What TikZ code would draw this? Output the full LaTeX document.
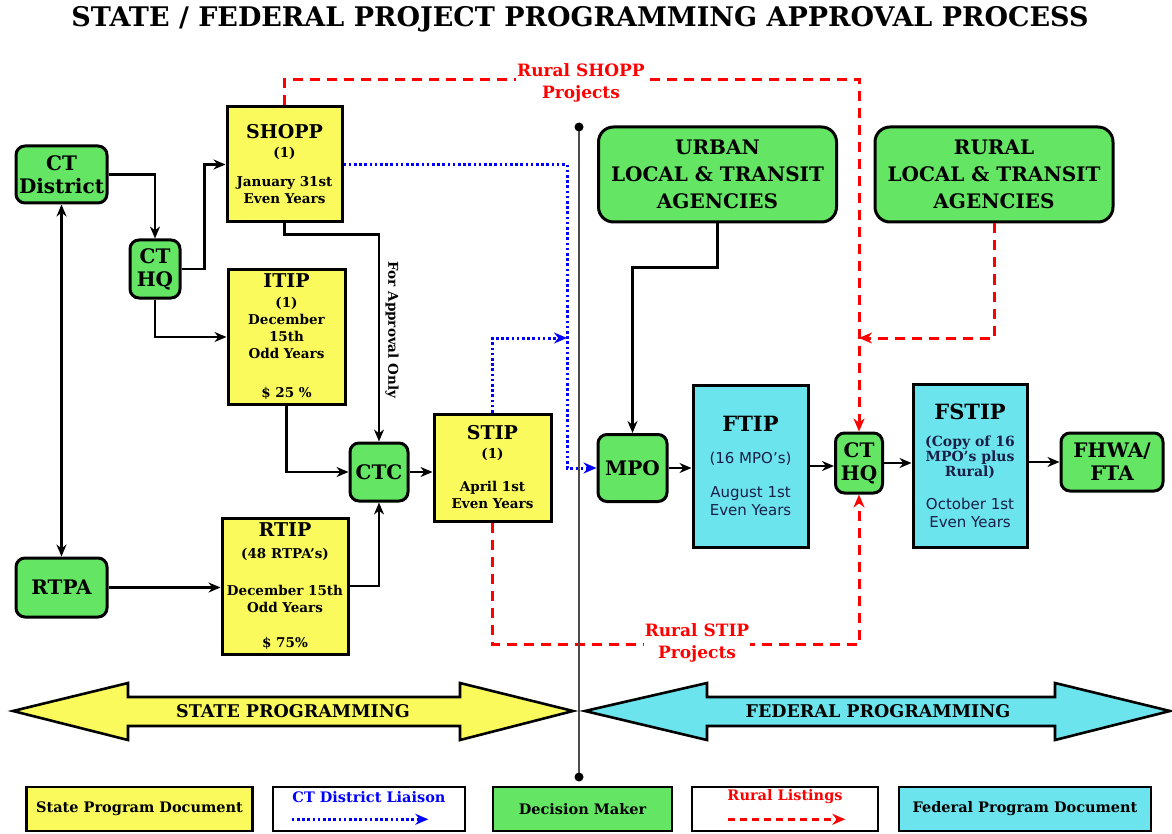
\documentclass[tikz,border=0pt]{standalone}
\usepackage{fontspec}
\setmainfont{DejaVu Serif}
\setsansfont{DejaVu Sans}
\usetikzlibrary{arrows.meta}
\definecolor{stateyellow}{RGB}{250,250,92}
\definecolor{decgreen}{RGB}{100,230,100}
\definecolor{fedcyan}{RGB}{108,228,238}
\definecolor{fedtext}{RGB}{25,30,70}
\tikzset{
    state-doc/.style = {draw=black, fill=stateyellow, line width=3pt, rectangle, align=center, inner sep=1pt, font=\bfseries\fontsize{13.5}{17}\selectfont},
    federal-doc/.style = {draw=black, fill=fedcyan, line width=3pt, rectangle, align=center, inner sep=1pt, text=fedtext, font=\sffamily\fontsize{15}{18}\selectfont},
    decision-box/.style = {draw=black, fill=decgreen, line width=3pt, rectangle, rounded corners=9pt, align=center, inner sep=1pt, font=\bfseries\fontsize{20}{23}\selectfont},
    agency-box/.style = {decision-box, rounded corners=15pt, minimum width=238pt, minimum height=95pt, font=\bfseries\fontsize{20}{27}\selectfont},
    flow-line/.style = {draw=black, line width=2.2pt, -{Stealth[length=12pt,width=10pt]}},
    liaison-line/.style = {draw=blue, line width=3pt, dash pattern=on 2.6pt off 2.6pt, -{Stealth[length=13pt,width=11pt]}},
    rural-line/.style = {draw=red, line width=3pt, dash pattern=on 10pt off 7pt, -{Stealth[length=13pt,width=11pt]}},
    rural-label/.style = {fill=white, text=red, align=center, inner sep=1pt, font=\bfseries\fontsize{17}{22}\selectfont},
    band-label/.style = {font=\bfseries\fontsize{17.5}{20}\selectfont},
    legend-box/.style = {draw=black, line width=2.6pt, rectangle, minimum height=44pt, inner sep=1pt, font=\bfseries\fontsize{14.5}{17}\selectfont},
}
\newcommand\fedhead{\color{black}\rmfamily\bfseries\fontsize{21}{24}\selectfont}
\newcommand\fednote{\rmfamily\bfseries\fontsize{14}{14}\selectfont}
\begin{document}
\begin{tikzpicture}[x=1pt, y=-1pt]
\useasboundingbox (0,0) rectangle (1172,834);

\node[font=\bfseries\fontsize{27}{32}\selectfont] (title) at (580,19) {STATE / FEDERAL PROJECT PROGRAMMING APPROVAL PROCESS};

% decision makers
\node [decision-box, minimum width=91pt, minimum height=57pt] (ctdistrict) at (61.5,174.5) {CT\\District};
\node [decision-box, minimum width=50pt, minimum height=58pt] (cthq) at (155,269) {CT\\HQ};
\node [decision-box, minimum width=91pt, minimum height=59pt] (rtpa) at (61.5,587.5) {RTPA};
\node [decision-box, minimum width=58pt, minimum height=58pt] (ctc) at (379,472) {CTC};
\node [decision-box, minimum width=69pt, minimum height=67pt] (mpo) at (632.5,468) {MPO};
\node [decision-box, minimum width=47pt, minimum height=60pt] (hq) at (859,463) {CT\\HQ};
\node [decision-box, minimum width=102pt, minimum height=58pt] (fhwa) at (1112,462) {FHWA/\\FTA};
\node [agency-box] (urban) at (717.5,174.5) {URBAN\\LOCAL \& TRANSIT\\AGENCIES};
\node [agency-box] (rural) at (994,174.5) {RURAL\\LOCAL \& TRANSIT\\AGENCIES};

% state program documents
\node [state-doc, minimum width=115pt, minimum height=115pt] (shopp) at (284.5,164.5) {{\fontsize{19}{22}\selectfont SHOPP}\\[2pt](1)\\[12pt]January 31st\\Even Years};
\node [state-doc, minimum width=117pt, minimum height=134pt] (itip) at (286.5,337) {{\fontsize{19}{22}\selectfont ITIP}\\[3pt](1)\\December\\15th\\Odd Years\\[22pt]\$ 25 \%};
\node [state-doc, minimum width=126pt, minimum height=136pt] (rtip) at (285,586) {{\fontsize{19}{22}\selectfont RTIP}\\[5pt](48 RTPA's)\\[20pt]December 15th\\Odd Years\\[18pt]\$ 75\%};
\node [state-doc, minimum width=117pt, minimum height=107pt] (stip) at (492.5,467.5) {{\fontsize{19}{22}\selectfont STIP}\\[2pt](1)\\[16pt]April 1st\\Even Years};

% federal program documents
\node [federal-doc, minimum width=115pt, minimum height=162pt] (ftip) at (750.5,466) {{\fedhead FTIP}\\[14pt](16 MPO's)\\[16pt]August 1st\\Even Years};
\node [federal-doc, minimum width=114pt, minimum height=163pt] (fstip) at (970,465.5) {{\fedhead FSTIP}\\[9pt]{\fednote (Copy of 16}\\[-3pt]{\fednote MPO's plus}\\[-3pt]{\fednote Rural)}\\[15pt]October 1st\\Even Years};

% state flow
\draw[flow-line] (ctdistrict.east) -| (cthq.north);
\draw[flow-line] (cthq.east) -- ++(23,0) |- (shopp.west);
\draw[flow-line] (cthq.south) |- (itip.west);
\draw[flow-line, {Stealth[length=12pt,width=10pt]}-{Stealth[length=12pt,width=10pt]}] (ctdistrict.south) -- (rtpa.north);
\draw[flow-line] (rtpa.east) -- (rtpa.east -| rtip.west);
\draw[flow-line] (rtip.east) -| (ctc.south);
\draw[flow-line] (itip.south) |- (ctc.west);
\draw[flow-line] (shopp.south) -- ++(0,11) -| (ctc.north);
\node[rotate=-90, font=\bfseries\fontsize{13.5}{15}\selectfont] (approval) at (392,330) {For Approval Only};
\draw[flow-line] (ctc.east) -- (ctc.east -| stip.west);

% federal flow
\draw[flow-line] (urban.south) -- ++(0,44) -| (mpo.north);
\draw[flow-line] (mpo.east) -- (mpo.east -| ftip.west);
\draw[flow-line] (ftip.east) -- (ftip.east -| hq.west);
\draw[flow-line] (hq.east) -- (hq.east -| fstip.west);
\draw[flow-line] (fhwa.west -| fstip.east) -- (fhwa.west);

% CT district liaison
\coordinate (liaison-drop) at (567,468);
\coordinate (liaison-join) at (567,338);
\draw[liaison-line] (shopp.east) -| (liaison-drop) -- (mpo.west);
\draw[liaison-line] (stip.north) |- (liaison-join);

% rural listings
\coordinate (rural-join) at (859,338);
\draw[rural-line] (shopp.north) -- ++(0,-26) -| (hq.north);
\draw[rural-line] (rural.south) |- (rural-join);
\draw[rural-line] (stip.south) -- ++(0,122) -| (hq.south);
\node[rural-label] (shopp-note) at (581,83) {Rural SHOPP\\Projects};
\node[rural-label] (stip-note) at (697,643) {Rural STIP\\Projects};

% divider
\coordinate (divide-top) at (579,127);
\coordinate (divide-bottom) at (579,777);
\draw[black!70, line width=1.2pt] (divide-top) -- (divide-bottom);
\fill (divide-top) circle (4.5pt);
\fill (divide-bottom) circle (4.5pt);

% programming bands
\draw[fill=stateyellow, line width=2.6pt, line join=miter] (13,711) -- (128,683) -- (128,697) -- (460,697) -- (460,683) -- (573,711) -- (460,740) -- (460,726) -- (128,726) -- (128,740) -- cycle;
\node[band-label] (state-band) at (293,711) {STATE PROGRAMMING};
\draw[fill=fedcyan, line width=2.6pt, line join=miter] (585,711) -- (707,683) -- (707,697) -- (1055,697) -- (1055,683) -- (1170,711) -- (1055,740) -- (1055,726) -- (707,726) -- (707,740) -- cycle;
\node[band-label] (federal-band) at (878,711) {FEDERAL PROGRAMMING};

% legend
\node[legend-box, fill=stateyellow, minimum width=226pt] (state-key) at (139.5,809) {State Program Document};
\node[legend-box, fill=white, minimum width=192pt] (liaison-key) at (369,809) {};
\node[text=blue, font=\bfseries\fontsize{14.5}{17}\selectfont] (liaison-key-text) at ([yshift=-11pt]liaison-key.north) {CT District Liaison};
\draw[liaison-line, line width=2.4pt] ([xshift=20pt,yshift=13pt]liaison-key.south west) -- ([xshift=-38pt,yshift=13pt]liaison-key.south east);
\node[legend-box, fill=decgreen, minimum width=179pt] (decision-key) at (582.5,809) {Decision Maker};
\node[legend-box, fill=white, minimum width=186pt] (rural-key) at (785,809) {};
\node[text=red, font=\bfseries\fontsize{14.5}{17}\selectfont] (rural-key-text) at ([yshift=-11pt]rural-key.north) {Rural Listings};
\draw[rural-line, line width=2.4pt, dash pattern=on 7pt off 5pt] ([xshift=37pt,yshift=13pt]rural-key.south west) -- ([xshift=-34pt,yshift=13pt]rural-key.south east);
\node[legend-box, fill=fedcyan, minimum width=252pt] (federal-key) at (1025,809) {Federal Program Document};
\end{tikzpicture}
\end{document}
